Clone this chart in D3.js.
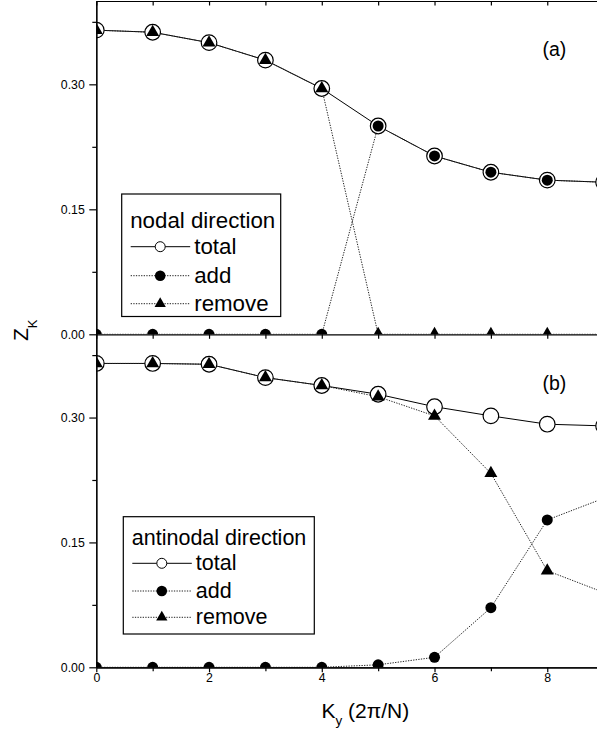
<!DOCTYPE html>
<html>
<head>
<meta charset="utf-8">
<script src="https://cdn.jsdelivr.net/npm/d3@7"></script>
<style>
  body { margin: 0; background: #fff; }
  svg { display: block; }
  text { font-family: "Liberation Sans", Arial, Helvetica, sans-serif; fill: #000; }
</style>
</head>
<body>
<svg width="597" height="733"></svg>
<script>
var width = 597;
var height = 733;

// data
var ky = [0, 1, 2, 3, 4, 5, 6, 7, 8, 9];
var nodalTotal = [0.365, 0.3625, 0.350, 0.329, 0.295, 0.250, 0.214, 0.1945, 0.185, 0.1825];
var nodalAdd = [0, 0, 0, 0, 0, 0.250, 0.214, 0.1945, 0.185, 0.1825];
var nodalRemove = [0.365, 0.3625, 0.350, 0.329, 0.295, 0, 0, 0, 0, 0];
var antiTotal = [0.365, 0.365, 0.364, 0.348, 0.3385, 0.328, 0.313, 0.302, 0.292, 0.290];
var antiAdd = [0, 0, 0, 0, 0, 0.003, 0.012, 0.0716, 0.177, 0.203];
var antiRemove = [0.365, 0.365, 0.364, 0.348, 0.3385, 0.325, 0.302, 0.233, 0.116, 0.090];

var yMajor = [0, 0.15, 0.30];
var yMinor = [0.075, 0.225, 0.375];
var xMajor = [0, 2, 4, 6, 8];
var xMinor = [1, 3, 5, 7, 9];
var seriesNames = ["total", "add", "remove"];

var svg = d3.select("svg");
svg.append("rect").attr("width", width).attr("height", height).attr("fill", "#fff");

// x scale is shared; plot runs past the right edge of the picture
var x = d3.scaleLinear().domain([0, 10]).range([96.3, 660]);

var panels = [
    { id: "a", label: "(a)", title: "nodal direction", top: 1.0, bottom: 334.3,
      total: nodalTotal, add: nodalAdd, remove: nodalRemove,
      legend: { x: 121.7, y: 194, w: 159, h: 122.5, titleY: 34.3, rowY: [52.7, 81.7, 109.7], fs: 22.3 },
      labelY: 55.5 },
    { id: "b", label: "(b)", title: "antinodal direction", top: 334.3, bottom: 667.3,
      total: antiTotal, add: antiAdd, remove: antiRemove,
      legend: { x: 123.3, y: 516.7, w: 191, h: 117.3, titleY: 28.3, rowY: [46.6, 74.3, 100.6], fs: 21.5 },
      labelY: 390 }
];

var triangle = d3.symbol().type(d3.symbolTriangle).size(73);
var triangleSmall = d3.symbol().type(d3.symbolTriangle).size(55);

panels.forEach(function (p) {
    var y = d3.scaleLinear().domain([0, 0.4]).range([p.bottom, p.top]);

    var clipId = "clip-" + p.id;
    svg.append("clipPath").attr("id", clipId)
        .append("rect")
        .attr("x", x(0))
        .attr("y", y(0.4))
        .attr("width", 600)
        .attr("height", y(0) - y(0.4));

    var g = svg.append("g").attr("clip-path", "url(#" + clipId + ")");

    var rows = ky.map(function (k, i) {
        return { k: k, total: p.total[i], add: p.add[i], remove: p.remove[i] };
    });

    function lineFor(key) {
        return d3.line()
            .x(function (d) { return x(d.k); })
            .y(function (d) { return y(d[key]); });
    }

    // lines first
    g.append("path").datum(rows)
        .attr("d", lineFor("total"))
        .attr("fill", "none").attr("stroke", "#000").attr("stroke-width", 1);
    g.append("path").datum(rows)
        .attr("d", lineFor("add"))
        .attr("fill", "none").attr("stroke", "#222").attr("stroke-width", 1)
        .attr("stroke-dasharray", "1.3,1.3");
    g.append("path").datum(rows)
        .attr("d", lineFor("remove"))
        .attr("fill", "none").attr("stroke", "#222").attr("stroke-width", 1)
        .attr("stroke-dasharray", "1.3,1.3");

    // open circles for total
    g.selectAll(".tot").data(rows).enter()
        .append("circle")
        .attr("cx", function (d) { return x(d.k); })
        .attr("cy", function (d) { return y(d.total); })
        .attr("r", 7.8)
        .attr("fill", "#fff").attr("stroke", "#000").attr("stroke-width", 1.2);

    // filled circles for add
    g.selectAll(".add").data(rows).enter()
        .append("circle")
        .attr("cx", function (d) { return x(d.k); })
        .attr("cy", function (d) { return y(d.add); })
        .attr("r", 5.5)
        .attr("fill", "#000");

    // triangles for remove
    g.selectAll(".rem").data(rows).enter()
        .append("path")
        .attr("d", triangle)
        .attr("transform", function (d) { return "translate(" + x(d.k) + "," + y(d.remove) + ")"; })
        .attr("fill", "#000");

    // axes
    var left = svg.append("g")
        .attr("transform", "translate(" + x(0) + ",0)")
        .call(d3.axisLeft(y).tickValues(yMajor).tickFormat(d3.format(".2f"))
            .tickSize(7).tickSizeOuter(0).tickPadding(4.5));
    left.selectAll("text").attr("font-size", 12.3).attr("font-family", null);
    left.selectAll("path, line").attr("stroke-width", 1.2);

    svg.append("g")
        .attr("transform", "translate(" + x(0) + ",0)")
        .call(d3.axisLeft(y).tickValues(yMinor).tickFormat("").tickSize(4).tickSizeOuter(0))
        .selectAll("path, line").attr("stroke-width", 1.2);

    if (p.id === "a") {
        // top frame with inward ticks, bottom line with ticks into panel b
        svg.append("g")
            .attr("transform", "translate(0," + y(0.4) + ")")
            .call(d3.axisBottom(x).tickValues(ky).tickFormat("").tickSize(4.5).tickSizeOuter(0))
            .selectAll("path, line").attr("stroke-width", 1.2);
        svg.append("g")
            .attr("transform", "translate(0," + y(0) + ")")
            .call(d3.axisBottom(x).tickValues(ky).tickFormat("").tickSize(4.5).tickSizeOuter(0))
            .selectAll("path, line").attr("stroke-width", 1.2);
    } else {
        var bottom = svg.append("g")
            .attr("transform", "translate(0," + y(0) + ")")
            .call(d3.axisBottom(x).tickValues(xMajor).tickFormat(d3.format("d"))
                .tickSize(5).tickSizeOuter(0).tickPadding(0.5));
        bottom.selectAll("text").attr("font-size", 12.3).attr("font-family", null);
        bottom.selectAll("path, line").attr("stroke-width", 1.2);
        svg.append("g")
            .attr("transform", "translate(0," + y(0) + ")")
            .call(d3.axisBottom(x).tickValues(xMinor).tickFormat("").tickSize(4).tickSizeOuter(0))
            .selectAll("path, line").attr("stroke-width", 1.2);
    }

    // panel label
    svg.append("text")
        .attr("x", 542.5)
        .attr("y", p.labelY)
        .attr("font-size", 19.5)
        .text(p.label);

    // legend
    var L = p.legend;
    var lg = svg.append("g").attr("transform", "translate(" + L.x + "," + L.y + ")");
    lg.append("rect")
        .attr("width", L.w).attr("height", L.h)
        .attr("fill", "#fff").attr("stroke", "#000").attr("stroke-width", 1.2);
    lg.append("text")
        .attr("x", 8.5).attr("y", L.titleY)
        .attr("font-size", L.fs)
        .text(p.title);

    seriesNames.forEach(function (name, i) {
        var ry = L.rowY[i];
        var line = lg.append("line")
            .attr("x1", 9).attr("x2", 68.5)
            .attr("y1", ry).attr("y2", ry)
            .attr("stroke", name === "total" ? "#000" : "#222")
            .attr("stroke-width", 1);
        if (name !== "total") line.attr("stroke-dasharray", "1.3,1.3");
        if (name === "total") {
            lg.append("circle").attr("cx", 38.5).attr("cy", ry).attr("r", 5)
                .attr("fill", "#fff").attr("stroke", "#000").attr("stroke-width", 1);
        } else if (name === "add") {
            lg.append("circle").attr("cx", 38.5).attr("cy", ry).attr("r", 5.3).attr("fill", "#000");
        } else {
            lg.append("path").attr("d", triangleSmall)
                .attr("transform", "translate(38.5," + ry + ")").attr("fill", "#000");
        }
        lg.append("text")
            .attr("x", 72.5).attr("y", ry + 7)
            .attr("font-size", L.fs)
            .text(name);
    });
});

// axis titles
var yLabel = svg.append("text")
    .attr("transform", "translate(28.3,341) rotate(-90)")
    .attr("font-size", 21);
yLabel.append("tspan").text("Z");
yLabel.append("tspan").attr("font-size", 13).attr("dy", 8.5).text("K");

var xLabel = svg.append("text")
    .attr("x", 321.5)
    .attr("y", 717.5)
    .attr("font-size", 21);
xLabel.append("tspan").text("K");
xLabel.append("tspan").attr("font-size", 13.5).attr("dy", 7).text("y");
xLabel.append("tspan").attr("dy", -7).text(" (2\u03c0/N)");
</script>
</body>
</html>
